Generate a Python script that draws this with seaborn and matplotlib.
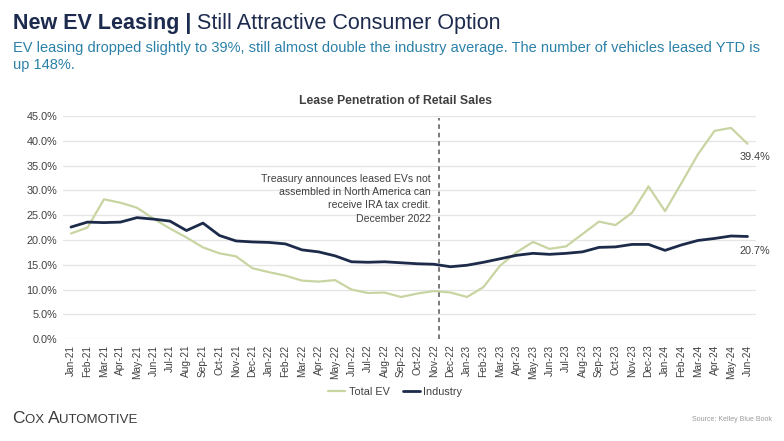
import matplotlib
matplotlib.use("Agg")
import matplotlib.pyplot as plt
import pandas as pd
import seaborn as sns

months = [
    "Jan-21", "Feb-21", "Mar-21", "Apr-21", "May-21", "Jun-21", "Jul-21", "Aug-21", "Sep-21", "Oct-21", "Nov-21", "Dec-21",
    "Jan-22", "Feb-22", "Mar-22", "Apr-22", "May-22", "Jun-22", "Jul-22", "Aug-22", "Sep-22", "Oct-22", "Nov-22", "Dec-22",
    "Jan-23", "Feb-23", "Mar-23", "Apr-23", "May-23", "Jun-23", "Jul-23", "Aug-23", "Sep-23", "Oct-23", "Nov-23", "Dec-23",
    "Jan-24", "Feb-24", "Mar-24", "Apr-24", "May-24", "Jun-24",
]
total_ev = [
    21.3, 22.5, 28.2, 27.5, 26.5, 24.3, 22.3, 20.5, 18.5, 17.3, 16.7, 14.3,
    13.5, 12.8, 11.8, 11.6, 11.9, 10.0, 9.3, 9.4, 8.5, 9.2, 9.7, 9.4,
    8.5, 10.5, 14.8, 17.5, 19.6, 18.2, 18.7, 21.2, 23.7, 23.0, 25.5, 30.8,
    25.8, 31.5, 37.3, 42.0, 42.6, 39.4,
]
industry = [
    22.6, 23.6, 23.5, 23.6, 24.5, 24.2, 23.8, 21.9, 23.4, 20.9, 19.8, 19.6,
    19.5, 19.2, 18.0, 17.6, 16.8, 15.6, 15.5, 15.6, 15.4, 15.2, 15.1, 14.6,
    14.9, 15.5, 16.2, 16.9, 17.3, 17.1, 17.3, 17.6, 18.5, 18.6, 19.1, 19.1,
    17.9, 19.0, 19.9, 20.3, 20.8, 20.7,
]
y_ticks = [0, 5, 10, 15, 20, 25, 30, 35, 40, 45]

EV_COLOR = "#c8d5a2"
IND_COLOR = "#1d2b4a"
GRID = "#e4e4e4"
TEXT = "#404040"

df = pd.concat([
    pd.DataFrame({"Month": months, "Value": total_ev, "Series": "Total EV"}),
    pd.DataFrame({"Month": months, "Value": industry, "Series": "Industry"}),
])

sns.set_theme(style="white")
plt.rcParams["font.family"] = ["Liberation Sans", "DejaVu Sans"]

fig = plt.figure(figsize=(7.84, 4.41), dpi=100)
ax = fig.add_axes([0.080, 0.231, 0.884, 0.506])

sns.lineplot(
    data=df, x="Month", y="Value", hue="Series", sort=False,
    palette={"Total EV": EV_COLOR, "Industry": IND_COLOR},
    ax=ax, legend=False,
)
for line, lw in zip(ax.lines, [1.6, 2.0]):
    line.set_linewidth(lw)

ax.set_xlim(-0.5, len(months) - 0.5)
ax.set_ylim(0, 45)
ax.set_yticks(y_ticks)
ax.set_yticklabels([f"{t:.1f}%" for t in y_ticks], fontsize=7.8, color=TEXT)
ax.set_xticks(range(len(months)))
ax.set_xticklabels(months, rotation=90, fontsize=7.3, color=TEXT)
ax.tick_params(axis="both", length=0, pad=4)
ax.yaxis.grid(True, color=GRID, linewidth=0.9)
ax.set_axisbelow(True)
for s in ax.spines.values():
    s.set_visible(False)
ax.set_xlabel("")
ax.set_ylabel("")

# policy marker
x_dec = months.index("Nov-22") + 0.3
ax.axvline(x_dec, color="#555555", linestyle=(0, (3, 2.5)), linewidth=1.1, ymax=0.99)
ax.text(x_dec - 0.5, 33.3,
        "Treasury announces leased EVs not\nassembled in North America can\nreceive IRA tax credit.\nDecember 2022",
        ha="right", va="top", fontsize=7.6, color=TEXT, linespacing=1.4)

ax.text(len(months) - 1 + 0.45, total_ev[-1] - 2.7, f"{total_ev[-1]:.1f}%",
        ha="center", va="center", fontsize=7.8, color=TEXT)
ax.text(len(months) - 1 + 0.45, industry[-1] - 3.0, f"{industry[-1]:.1f}%",
        ha="center", va="center", fontsize=7.8, color=TEXT)

# headers
t1 = fig.text(0.016, 0.935, "New EV Leasing | ", fontsize=15.5, fontweight="bold", color="#1c2a4d", va="baseline")
fig.canvas.draw()
ax.annotate("Still Attractive Consumer Option", xy=(1, 0), xycoords=t1, va="bottom",
            fontsize=15.5, color="#1c2a4d")
fig.text(0.016, 0.906,
         "EV leasing dropped slightly to 39%, still almost double the industry average. The number of vehicles leased YTD is\nup 148%.",
         fontsize=10.5, color="#2b80a8", va="top", linespacing=1.2)
fig.text(0.504, 0.772, "Lease Penetration of Retail Sales", ha="center", va="center",
         fontsize=8.8, fontweight="bold", color=TEXT)

handles = [plt.Line2D([], [], color=EV_COLOR, lw=1.6), plt.Line2D([], [], color=IND_COLOR, lw=2.0)]
fig.legend(handles, ["Total EV", "Industry"], loc="center", bbox_to_anchor=(0.504, 0.111),
           ncol=2, frameon=False, fontsize=7.8, handlelength=1.6, handletextpad=0.3, columnspacing=1.2,
           labelcolor=TEXT)

# footer
c1 = fig.text(0.016, 0.04, "C", fontsize=12.5, color="#3a3a3a", va="baseline")
c2 = ax.annotate("OX ", xy=(1, 0), xycoords=c1, va="bottom", fontsize=9.5, color="#3a3a3a")
c3 = ax.annotate("A", xy=(1, 0), xycoords=c2, va="bottom", fontsize=12.5, color="#3a3a3a")
ax.annotate("UTOMOTIVE", xy=(1, 0), xycoords=c3, va="bottom", fontsize=9.5, color="#3a3a3a")
fig.text(0.984, 0.045, "Source: Kelley Blue Book", ha="right", fontsize=5, color="#9a9a9a")

fig.savefig("out.png", dpi=100)
